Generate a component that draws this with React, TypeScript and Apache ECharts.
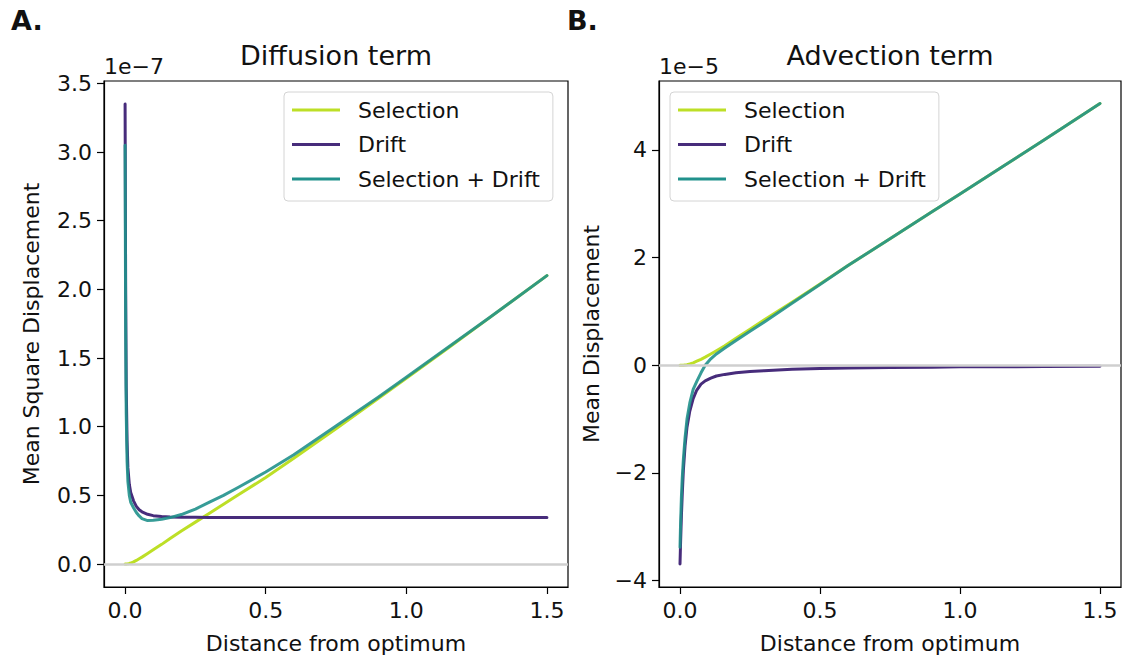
import React, { useEffect, useRef } from 'react';
import * as echarts from 'echarts';

// ---------- data ----------
const seriesNames = ['Selection', 'Drift', 'Selection + Drift'];
const seriesColors = ['#bddf26', '#472c7b', '#21918c'];

// Panel A: Diffusion term (units 1e-7)
const diffX = [0, 0.002, 0.004, 0.007, 0.01, 0.015, 0.02, 0.03, 0.04, 0.05, 0.06, 0.08, 0.1, 0.13, 0.16, 0.2, 0.25, 0.3, 0.35, 0.4, 0.5, 0.6, 0.75, 0.9, 1.0, 1.15, 1.3, 1.5];
const diffSelection = [0, 0, 0, 0.001, 0.002, 0.004, 0.007, 0.015, 0.026, 0.038, 0.05, 0.076, 0.103, 0.143, 0.185, 0.24, 0.305, 0.37, 0.435, 0.5, 0.63, 0.77, 0.985, 1.205, 1.352, 1.575, 1.8, 2.1];
const diffDrift = [3.35, 2.0, 1.3, 0.9, 0.7, 0.58, 0.52, 0.46, 0.42, 0.395, 0.38, 0.362, 0.352, 0.346, 0.343, 0.341, 0.34, 0.339, 0.339, 0.339, 0.339, 0.338, 0.338, 0.338, 0.338, 0.338, 0.338, 0.338];
const diffBoth = [3.05, 1.7, 1.1, 0.75, 0.6, 0.5, 0.45, 0.41, 0.375, 0.35, 0.33, 0.316, 0.318, 0.326, 0.338, 0.36, 0.4, 0.45, 0.5, 0.555, 0.67, 0.795, 1.005, 1.215, 1.36, 1.58, 1.8, 2.1];

// Panel B: Advection term (units 1e-5)
const advX = [0, 0.002, 0.005, 0.008, 0.012, 0.018, 0.025, 0.035, 0.047, 0.06, 0.075, 0.09, 0.11, 0.13, 0.16, 0.2, 0.25, 0.3, 0.4, 0.5, 0.6, 0.75, 0.9, 1.0, 1.15, 1.3, 1.5];
const advSelection = [0, 0, 0, 0, 0, 0.005, 0.01, 0.025, 0.045, 0.075, 0.11, 0.15, 0.21, 0.27, 0.36, 0.5, 0.67, 0.84, 1.17, 1.51, 1.85, 2.35, 2.85, 3.18, 3.68, 4.18, 4.86];
const advDrift = [-3.69, -3.3, -2.8, -2.4, -1.95, -1.5, -1.15, -0.85, -0.62, -0.46, -0.35, -0.29, -0.24, -0.2, -0.17, -0.14, -0.115, -0.1, -0.075, -0.06, -0.05, -0.04, -0.035, -0.03, -0.027, -0.024, -0.02];
const advBoth = [-3.38, -2.95, -2.45, -2.1, -1.75, -1.35, -1.0, -0.7, -0.45, -0.3, -0.14, 0.0, 0.12, 0.21, 0.32, 0.46, 0.63, 0.8, 1.15, 1.5, 1.85, 2.35, 2.85, 3.18, 3.68, 4.18, 4.86];

const xTicks = [0, 0.5, 1.0, 1.5];
const diffYTicks = [0, 0.5, 1.0, 1.5, 2.0, 2.5, 3.0, 3.5];
const advYTicks = [-4, -2, 0, 2, 4];

const FONT = '"DejaVu Sans", "Liberation Sans", sans-serif';

function zip(xs: number[], ys: number[]) {
  return xs.map((x, i) => [x, ys[i]]);
}

const fmtMinus = (v: number, digits: number) => {
  const s = Math.abs(v).toFixed(digits);
  return v < 0 ? '\u2212' + s : s;
};

export default function App() {
  const ref = useRef<HTMLDivElement>(null);

  useEffect(() => {
    if (!ref.current) return;
    const chart = echarts.init(ref.current, undefined, { renderer: 'svg' });

    const axisText = { fontSize: 22, fontFamily: FONT, color: '#111' };
    const lineBlack = { color: '#000', width: 1.2 };

    const xAxisBase = (gridIndex: number) => ({
      type: 'value',
      gridIndex,
      min: -0.075,
      max: 1.575,
      splitLine: { show: false },
      axisLine: { show: true, onZero: false, lineStyle: lineBlack },
      axisTick: { show: true, length: 7, customValues: xTicks, lineStyle: lineBlack },
      axisLabel: { ...axisText, margin: 12, customValues: xTicks, formatter: (v: number) => v.toFixed(1) },
    });

    const yAxisBase = (gridIndex: number, min: number, max: number, ticks: number[], digits: number) => ({
      type: 'value',
      gridIndex,
      min,
      max,
      splitLine: { show: false },
      axisLine: { show: true, onZero: false, lineStyle: lineBlack },
      axisTick: { show: true, length: 7, customValues: ticks, lineStyle: lineBlack },
      axisLabel: { ...axisText, margin: 12, customValues: ticks, formatter: (v: number) => fmtMinus(v, digits) },
    });

    const dataSets = [
      [diffSelection, diffDrift, diffBoth],
      [advSelection, advDrift, advBoth],
    ];
    const xs = [diffX, advX];

    const series: any[] = [];
    [0, 1].forEach((g) => {
      series.push({
        type: 'line',
        name: 'zero' + g,
        xAxisIndex: g,
        yAxisIndex: g,
        data: [],
        z: 1,
        silent: true,
        markLine: {
          silent: true,
          symbol: 'none',
          label: { show: false },
          lineStyle: { color: '#cfcfcf', width: 2.5, type: 'solid' },
          data: [{ yAxis: 0 }],
        },
      });
      seriesNames.forEach((name, i) => {
        series.push({
          type: 'line',
          name,
          xAxisIndex: g,
          yAxisIndex: g,
          data: zip(xs[g], dataSets[g][i]),
          color: seriesColors[i],
          showSymbol: false,
          symbol: 'none',
          smooth: false,
          z: 2 + i,
          lineStyle: { width: 3, color: seriesColors[i], opacity: i === 2 ? 0.9 : 1, join: 'round', cap: 'round' },
        });
      });
    });

    const legendBase = (left: number) => ({
      data: seriesNames,
      left,
      top: 92,
      orient: 'vertical',
      icon: 'rect',
      itemWidth: 48,
      itemHeight: 3,
      itemGap: 12.5,
      backgroundColor: '#ffffff',
      borderColor: '#d4d4d4',
      borderWidth: 1,
      borderRadius: 4,
      padding: [7, 13, 11, 8],
      selectedMode: false,
      textStyle: { fontSize: 22, fontFamily: FONT, color: '#111', lineHeight: 22, padding: [0, 0, 0, 13] },
    });

    const txt = (text: string, x: number, y: number, size: number, extra: any = {}) => ({
      type: 'text',
      x,
      y,
      rotation: extra.rotation || 0,
      silent: true,
      z: 100,
      style: {
        text,
        fill: '#111',
        font: `${extra.bold ? 'bold ' : ''}${size}px ${FONT}`,
        align: extra.align || 'center',
        verticalAlign: 'middle',
      },
    });

    chart.setOption({
      animation: false,
      backgroundColor: '#ffffff',
      grid: [
        { left: 104, top: 81, width: 464, height: 506, show: true, borderColor: '#000', borderWidth: 1.2, backgroundColor: 'transparent' },
        { left: 659, top: 81, width: 462, height: 506, show: true, borderColor: '#000', borderWidth: 1.2, backgroundColor: 'transparent' },
      ],
      xAxis: [xAxisBase(0), xAxisBase(1)],
      yAxis: [
        yAxisBase(0, -0.1675, 3.5175, diffYTicks, 1),
        yAxisBase(1, -4.117, 5.277, advYTicks, 0),
      ],
      legend: [legendBase(284), legendBase(670)],
      series,
      graphic: [
        txt('A.', 11, 20, 27, { bold: true, align: 'left' }),
        txt('B.', 567, 20, 27, { bold: true, align: 'left' }),
        txt('Diffusion term', 336, 55, 27),
        txt('Advection term', 890, 55, 27),
        txt('1e\u22127', 104, 66, 22, { align: 'left' }),
        txt('1e\u22125', 659, 66, 22, { align: 'left' }),
        txt('Distance from optimum', 336, 643, 22),
        txt('Distance from optimum', 890, 643, 22),
        txt('Mean Square Displacement', 31, 334, 22, { rotation: Math.PI / 2 }),
        txt('Mean Displacement', 591, 334, 22, { rotation: Math.PI / 2 }),
      ],
    });

    return () => chart.dispose();
  }, []);

  return (
    <div
      ref={ref}
      style={{ position: 'absolute', left: 0, top: 0, width: 1122, height: 660, background: '#fff' }}
    />
  );
}
